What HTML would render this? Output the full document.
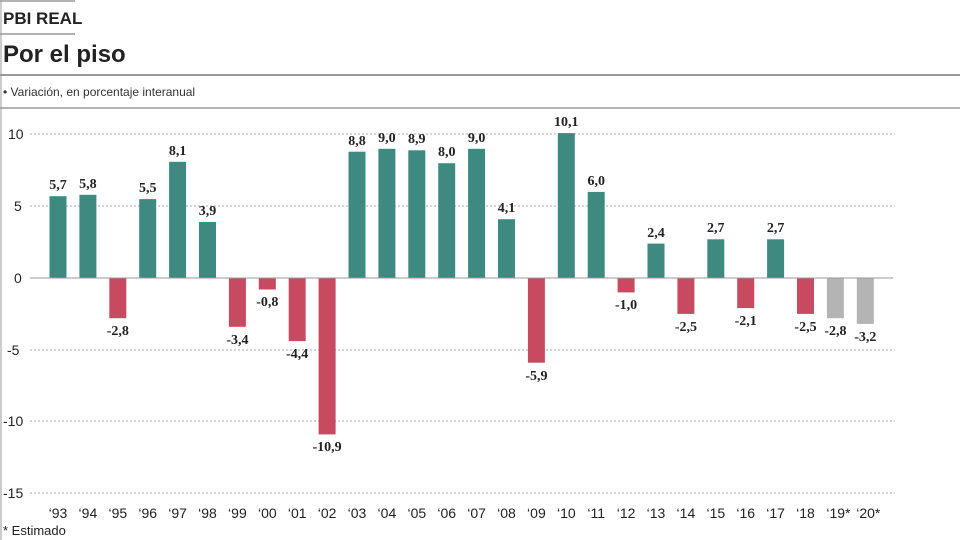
<!DOCTYPE html>
<html><head><meta charset="utf-8"><style>
html,body{margin:0;padding:0;background:#fff;}
svg{display:block;}
.t{font-family:"Liberation Sans",sans-serif;}
.v{font-family:"Liberation Serif",serif;font-weight:bold;font-size:14px;fill:#222;text-anchor:middle;}
.ax{font-family:"Liberation Sans",sans-serif;font-size:14px;fill:#222;}
.yr{font-family:"Liberation Sans",sans-serif;font-size:14px;fill:#222;text-anchor:middle;}
.p{fill:#3e8a80}.n{fill:#c74a60}.g{fill:#b4b4b4}
</style></head><body>
<svg width="960" height="540" viewBox="0 0 960 540" xmlns="http://www.w3.org/2000/svg">
<line x1="1" y1="0" x2="1" y2="540" stroke="#bbb" stroke-width="1.5"/>
<line x1="0" y1="1" x2="75" y2="1" stroke="#999" stroke-width="1.5"/>
<text x="3" y="24" class="t" font-size="17" font-weight="bold" fill="#222">PBI REAL</text>
<line x1="0" y1="34" x2="75" y2="34" stroke="#999" stroke-width="1.5"/>
<text x="3" y="62" class="t" font-size="24" font-weight="bold" fill="#222">Por el piso</text>
<line x1="0" y1="75" x2="960" y2="75" stroke="#999" stroke-width="2"/>
<text x="3" y="96" class="t" font-size="12" fill="#333">• Variación, en porcentaje interanual</text>
<line x1="0" y1="108" x2="960" y2="108" stroke="#999" stroke-width="1.5"/>
<g stroke="#aaa" stroke-width="1" stroke-dasharray="2,2">
<line x1="30" y1="134" x2="895" y2="134"/>
<line x1="30" y1="206" x2="895" y2="206"/>
<line x1="30" y1="350" x2="895" y2="350"/>
<line x1="30" y1="421" x2="895" y2="421"/>
<line x1="30" y1="493" x2="895" y2="493"/>
</g>
<g class="ax">
<text x="8" y="139">10</text>
<text x="14" y="211">5</text>
<text x="14" y="283">0</text>
<text x="7" y="355">-5</text>
<text x="3" y="426">-10</text>
<text x="3" y="498">-15</text>
</g>
<g>
<rect class="p" x="49.5" y="196.2" width="17" height="81.8"/>
<rect class="p" x="79.4" y="194.8" width="17" height="83.2"/>
<rect class="n" x="109.3" y="278" width="17" height="40.2"/>
<rect class="p" x="139.2" y="199.1" width="17" height="78.9"/>
<rect class="p" x="169.1" y="161.8" width="17" height="116.2"/>
<rect class="p" x="199" y="222" width="17" height="56"/>
<rect class="n" x="228.9" y="278" width="17" height="48.8"/>
<rect class="n" x="258.8" y="278" width="17" height="11.5"/>
<rect class="n" x="288.7" y="278" width="17" height="63.1"/>
<rect class="n" x="318.6" y="278" width="17" height="156.4"/>
<rect class="p" x="348.5" y="151.7" width="17" height="126.3"/>
<rect class="p" x="378.4" y="148.8" width="17" height="129.2"/>
<rect class="p" x="408.3" y="150.3" width="17" height="127.7"/>
<rect class="p" x="438.2" y="163.2" width="17" height="114.8"/>
<rect class="p" x="468.1" y="148.8" width="17" height="129.2"/>
<rect class="p" x="498" y="219.2" width="17" height="58.8"/>
<rect class="n" x="527.9" y="278" width="17" height="84.7"/>
<rect class="p" x="557.8" y="133.1" width="17" height="144.9"/>
<rect class="p" x="587.7" y="191.9" width="17" height="86.1"/>
<rect class="n" x="617.6" y="278" width="17" height="14.4"/>
<rect class="p" x="647.5" y="243.6" width="17" height="34.4"/>
<rect class="n" x="677.4" y="278" width="17" height="35.9"/>
<rect class="p" x="707.3" y="239.3" width="17" height="38.7"/>
<rect class="n" x="737.2" y="278" width="17" height="30.1"/>
<rect class="p" x="767.1" y="239.3" width="17" height="38.7"/>
<rect class="n" x="797" y="278" width="17" height="35.9"/>
<rect class="g" x="826.9" y="278" width="17" height="40.2"/>
<rect class="g" x="856.8" y="278" width="17" height="45.9"/>
</g>
<line x1="30" y1="278" x2="893" y2="278" stroke="#999" stroke-width="1"/>
<g class="v">
<text x="58" y="189">5,7</text>
<text x="87.9" y="188">5,8</text>
<text x="117.8" y="335">-2,8</text>
<text x="147.7" y="192">5,5</text>
<text x="177.6" y="155">8,1</text>
<text x="207.5" y="215">3,9</text>
<text x="237.4" y="344">-3,4</text>
<text x="267.3" y="306">-0,8</text>
<text x="297.2" y="358">-4,4</text>
<text x="327.1" y="451">-10,9</text>
<text x="357" y="145">8,8</text>
<text x="386.9" y="142">9,0</text>
<text x="416.8" y="143">8,9</text>
<text x="446.7" y="156">8,0</text>
<text x="476.6" y="142">9,0</text>
<text x="506.5" y="212">4,1</text>
<text x="536.4" y="380">-5,9</text>
<text x="566.3" y="126">10,1</text>
<text x="596.2" y="185">6,0</text>
<text x="626.1" y="309">-1,0</text>
<text x="656" y="237">2,4</text>
<text x="685.9" y="331">-2,5</text>
<text x="715.8" y="232">2,7</text>
<text x="745.7" y="325">-2,1</text>
<text x="775.6" y="232">2,7</text>
<text x="805.5" y="331">-2,5</text>
<text x="835.4" y="335">-2,8</text>
<text x="865.3" y="341">-3,2</text>
</g>
<g class="yr">
<text x="58" y="518">‘93</text>
<text x="87.9" y="518">‘94</text>
<text x="117.8" y="518">‘95</text>
<text x="147.7" y="518">‘96</text>
<text x="177.6" y="518">‘97</text>
<text x="207.5" y="518">‘98</text>
<text x="237.4" y="518">‘99</text>
<text x="267.3" y="518">‘00</text>
<text x="297.2" y="518">‘01</text>
<text x="327.1" y="518">‘02</text>
<text x="357" y="518">‘03</text>
<text x="386.9" y="518">‘04</text>
<text x="416.8" y="518">‘05</text>
<text x="446.7" y="518">‘06</text>
<text x="476.6" y="518">‘07</text>
<text x="506.5" y="518">‘08</text>
<text x="536.4" y="518">‘09</text>
<text x="566.3" y="518">‘10</text>
<text x="596.2" y="518">‘11</text>
<text x="626.1" y="518">‘12</text>
<text x="656" y="518">‘13</text>
<text x="685.9" y="518">‘14</text>
<text x="715.8" y="518">‘15</text>
<text x="745.7" y="518">‘16</text>
<text x="775.6" y="518">‘17</text>
<text x="805.5" y="518">‘18</text>
<text x="838.4" y="518">‘19*</text>
<text x="868.3" y="518">‘20*</text>
</g>
<text x="3" y="535" class="t" font-size="13" fill="#222">* Estimado</text>
</svg>
</body></html>
